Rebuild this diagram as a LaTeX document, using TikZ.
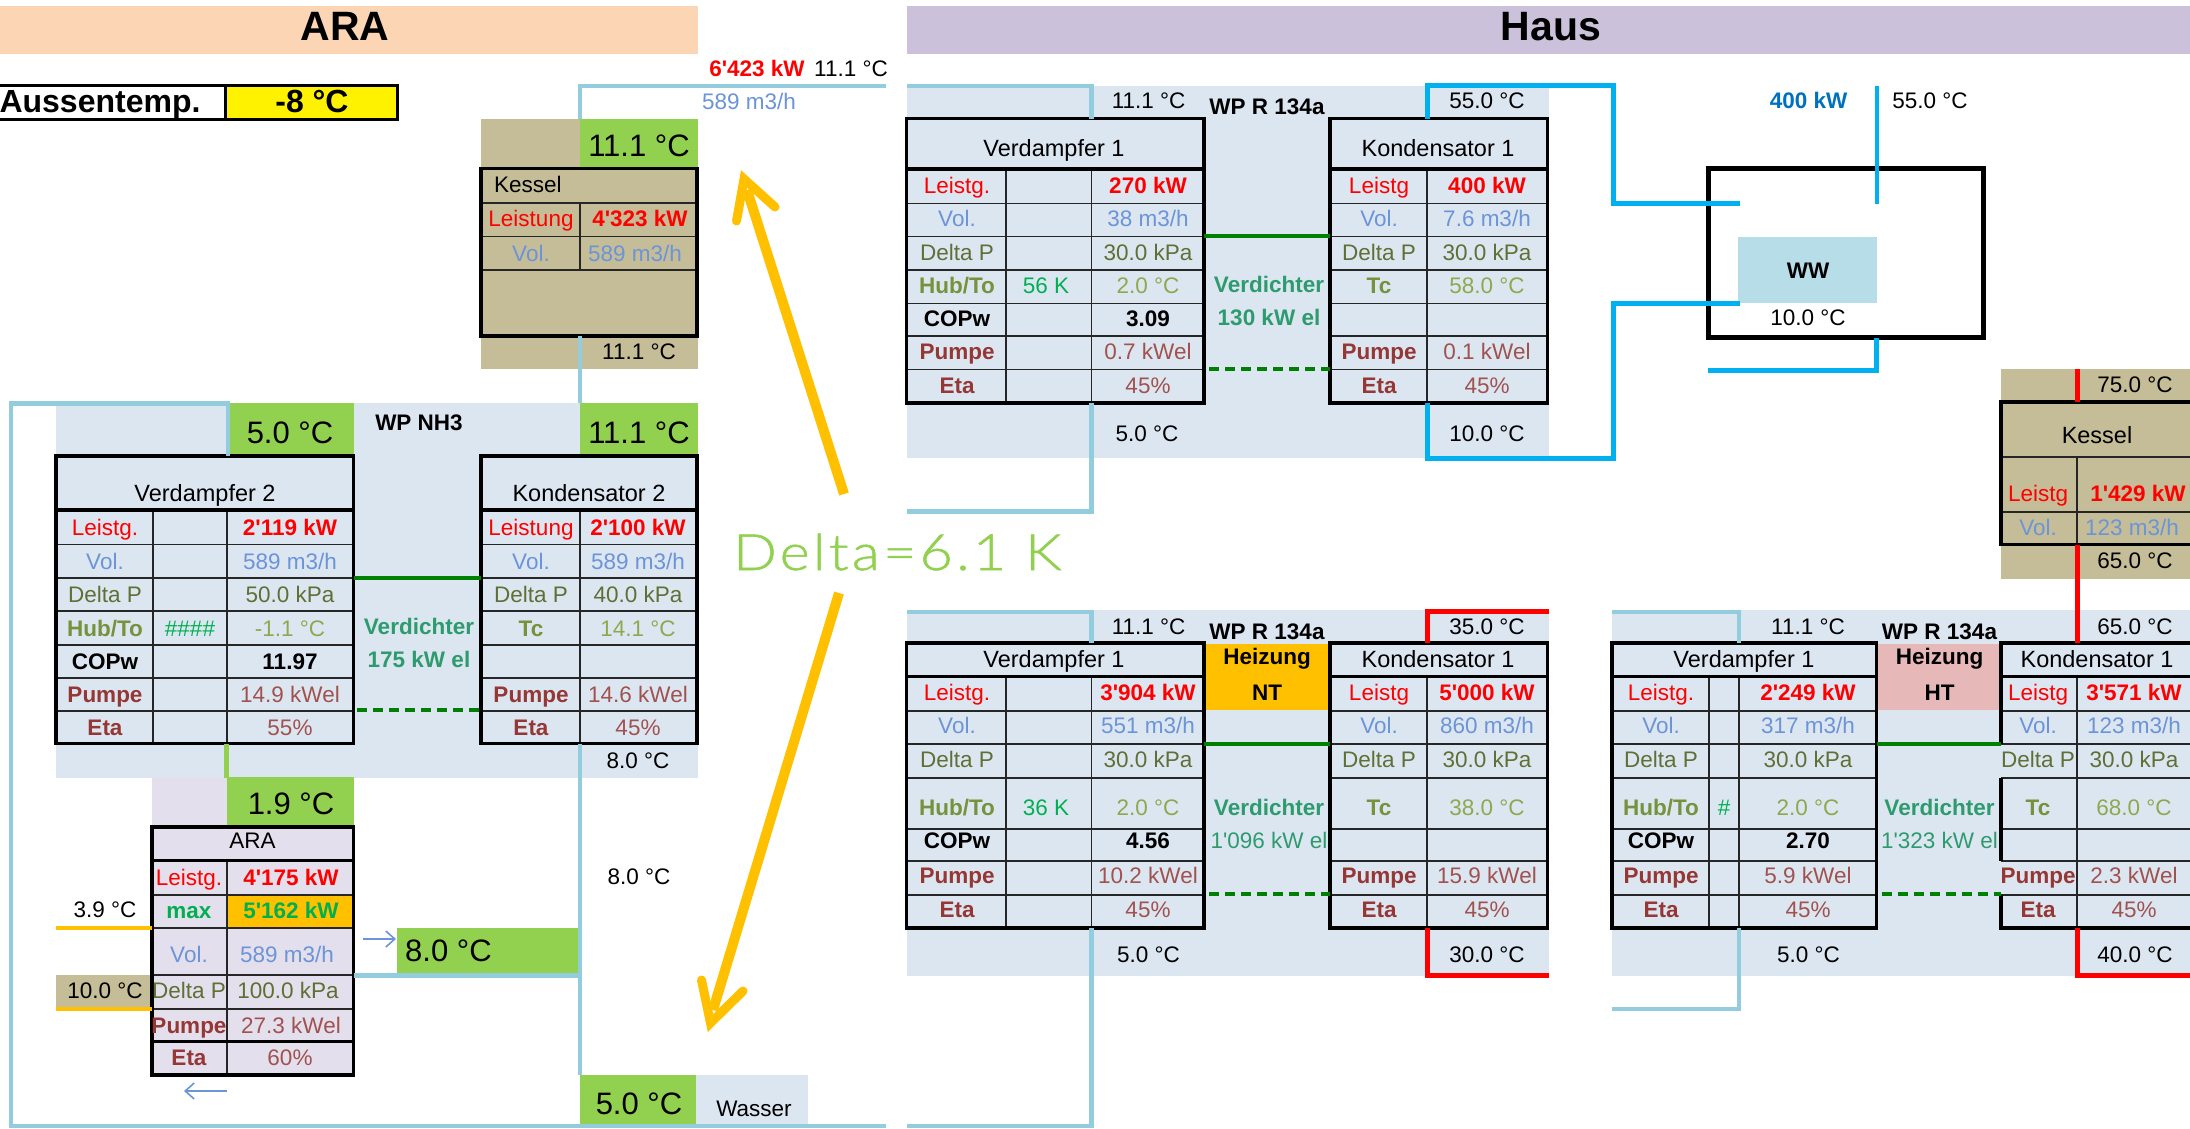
\documentclass[tikz,border=0pt]{standalone}
\usepackage{fontspec}
\usetikzlibrary{arrows.meta}
\newfontfamily\fnt{Liberation Sans}
\newfontfamily\dfnt[LetterSpace=6.5,FakeStretch=1.15,FakeBold=1]{Lato Light}
\definecolor{hAra}{HTML}{FCD5B5}
\definecolor{hHaus}{HTML}{CCC1DA}
\definecolor{bgblue}{HTML}{DCE6F1}
\definecolor{tanbg}{HTML}{C4BD97}
\definecolor{lime}{HTML}{92D050}
\definecolor{lav}{HTML}{E4DFEC}
\definecolor{aqua}{HTML}{93CDDD}
\definecolor{sky}{HTML}{00B0F0}
\definecolor{ww}{HTML}{B7DDE8}
\definecolor{amber}{HTML}{FFC000}
\definecolor{pink}{HTML}{E6B9B8}
\definecolor{cvol}{HTML}{6C94D8}
\definecolor{cdp}{HTML}{5F6F35}
\definecolor{chub}{HTML}{76923C}
\definecolor{cto}{HTML}{8FA84F}
\definecolor{cpb}{HTML}{953735}
\definecolor{cpv}{HTML}{A0524F}
\definecolor{cver}{HTML}{2E9B6E}
\definecolor{cgrn}{HTML}{00B050}
\definecolor{dgreen}{HTML}{008000}
\definecolor{wwblue}{HTML}{0070C0}
\newcounter{tn}
\tikzset{
  txt/.style={font=\fnt\fontsize{22.5}{24}\selectfont,inner sep=0pt,anchor=mid,yshift=-6pt},
  hdr/.style={font=\fnt\fontsize{23.5}{25}\selectfont,inner sep=0pt,anchor=mid,yshift=-6pt},
  btxt/.style={font=\fnt\bfseries\fontsize{22.5}{24}\selectfont,inner sep=0pt,anchor=mid,yshift=-6pt},
  bigtxt/.style={font=\fnt\fontsize{31}{33}\selectfont,inner sep=0pt,anchor=mid,yshift=-8pt},
  title/.style={font=\fnt\bfseries\fontsize{41}{43}\selectfont,inner sep=0pt,anchor=mid,yshift=-10pt},
  outtemp/.style={font=\fnt\bfseries\fontsize{32}{34}\selectfont,inner sep=0pt,anchor=mid,yshift=-7pt},
  rowline/.style={draw=black!85,line width=1.8pt},
  border/.style={draw=black,line width=3.4pt},
  pipeaqua/.style={draw=aqua,line width=4.6pt},
  pipesky/.style={draw=sky,line width=5pt},
  pipered/.style={draw=red,line width=5pt},
  pipegrn/.style={draw=lime,line width=4.5pt},
  pipeamb/.style={draw=amber,line width=4.5pt},
  comp/.style={draw=dgreen,line width=4pt},
  compd/.style={draw=dgreen,line width=3.5pt,dash pattern=on 10pt off 6pt},
  bigarrow/.style={draw=amber,line width=10pt},
  chev/.style={draw=amber,line width=9pt,line cap=round,line join=miter},
  thinarrow/.style={draw=cvol,line width=1.6pt,-{Straight Barb[length=9pt,width=16pt]}},
}
\newcommand\T[4]{\stepcounter{tn}\node[#1] (n\thetn) at (#2,#3) {#4};}
\newcommand\Fl[5]{\fill[#1] (#2,#3) rectangle (#4,#5);}
% x0,y0,x1,y1,ycol, cols, rows
\newcommand\Grid[7]{%
  \foreach \rr in {#7}{\draw[rowline] (#1,\rr)--(#3,\rr);}
  \foreach \cc in {#6}{\draw[rowline] (\cc,#5)--(\cc,#4);}
  \draw[border] (#1,#2) rectangle (#3,#4);
  \draw[border] (#1,#5)--(#3,#5);}
\newcommand\SetY[7]{\def\ya{#1}\def\yb{#2}\def\yc{#3}\def\yd{#4}\def\ye{#5}\def\yf{#6}\def\yg{#7}}
% xlabel xmid xval leist vol dp hub to
\newcommand\VerdA[8]{%
  \T{txt,red}{#1}{\ya}{Leistg.}\T{btxt,red}{#3}{\ya}{#4}
  \T{txt,cvol}{#1}{\yb}{Vol.}\T{txt,cvol}{#3}{\yb}{#5}
  \T{txt,cdp}{#1}{\yc}{Delta P}\T{txt,cdp}{#3}{\yc}{#6}
  \T{btxt,chub}{#1}{\yd}{Hub/To}\T{txt,cgrn}{#2}{\yd}{#7}\T{txt,cto}{#3}{\yd}{#8}}
% xlabel xval cop pump eta
\newcommand\VerdB[5]{%
  \T{btxt,black}{#1}{\ye}{COPw}\T{btxt,black}{#2}{\ye}{#3}
  \T{btxt,cpb}{#1}{\yf}{Pumpe}\T{txt,cpv}{#2}{\yf}{#4}
  \T{btxt,cpb}{#1}{\yg}{Eta}\T{txt,cpv}{#2}{\yg}{#5}}
% xlabel xval lab leist vol dp tc pump eta
\newcommand\Kond[9]{%
  \T{txt,red}{#1}{\ya}{#3}\T{btxt,red}{#2}{\ya}{#4}
  \T{txt,cvol}{#1}{\yb}{Vol.}\T{txt,cvol}{#2}{\yb}{#5}
  \T{txt,cdp}{#1}{\yc}{Delta P}\T{txt,cdp}{#2}{\yc}{#6}
  \T{btxt,chub}{#1}{\yd}{Tc}\T{txt,cto}{#2}{\yd}{#7}
  \T{btxt,cpb}{#1}{\yf}{Pumpe}\T{txt,cpv}{#2}{\yf}{#8}
  \T{btxt,cpb}{#1}{\yg}{Eta}\T{txt,cpv}{#2}{\yg}{#9}}
\begin{document}
\begin{tikzpicture}[x=1pt,y=-1pt]
\useasboundingbox (0,0) rectangle (2190,1128);
\fill[white] (0,0) rectangle (2190,1128);
% ---- headers
\Fl{hAra}{0}{6}{698}{54}
\Fl{hHaus}{907}{6}{2190}{54}
\T{title}{345}{28}{ARA}
\T{title}{1551}{28}{Haus}
% ---- Aussentemp
\Fl{yellow}{226}{85}{396}{119}
\draw[draw=black,line width=3pt] (-3,85) -- (397,85) -- (397,119) -- (-3,119);
\draw[draw=black,line width=3pt] (225,85) -- (225,119);
\T{outtemp}{100}{103}{Aussentemp.}
\T{outtemp}{312}{103}{-8 °C}
% ---- backgrounds
\Fl{tanbg}{481}{118.5}{698}{369}
\Fl{lime}{580}{118.5}{698}{167}
\Fl{bgblue}{56}{403}{698}{778}
\Fl{lime}{228}{403}{353.5}{455}
\Fl{lime}{580}{403}{698}{455}
\Fl{lav}{152}{777}{227}{827}
\Fl{lav}{152}{827}{353.5}{1075}
\Fl{lime}{227}{777}{354}{826}
\Fl{amber}{227}{895}{353.5}{928}
\Fl{tanbg}{56}{975}{152}{1009}
\Fl{lime}{397}{927.5}{578}{973}
\Fl{lime}{580}{1075}{696}{1128}
\Fl{bgblue}{696}{1075}{808}{1128}
\Fl{bgblue}{907}{86}{1549}{458}
\Fl{ww}{1738}{236.5}{1877}{302.5}
\Fl{tanbg}{2001}{369}{2190}{579}
\Fl{bgblue}{907}{610}{1549}{976}
\Fl{amber}{1205}{644}{1329}{710}
\Fl{bgblue}{1612}{610}{2190}{976}
\Fl{pink}{1877}{644}{2000}{710}
% ---- tables
\Grid{481}{168.5}{697}{336}{168.5}{}{203,236.5,270}
\draw[rowline] (580,203)--(580,270);
\Grid{56}{456}{353.5}{743.5}{510}{153,226.7}{544.5,578,611,644.7,678,711}
\Grid{481}{456}{697}{743.5}{510}{580}{544.5,578,611,644.7,678,711}
\Grid{152}{827}{353.5}{1075}{860.5}{226.7}{895,928,975,1009,1041.5}
\draw[border] (152,1041.5)--(353.5,1041.5);
\Grid{906.6}{118.5}{1204}{403}{169}{1006,1091.5}{203.5,236.4,270,303.5,336.3,369.5}
\Grid{1330}{118.5}{1547.5}{403}{169}{1427}{203.5,236.4,270,303.5,336.3,369.5}
\Grid{906.6}{643}{1204}{928}{676.5}{1006,1091.5}{711,744,778,828.6,861,895}
\Grid{1330}{643}{1547.5}{928}{676.5}{1427}{711,744,778,828.6,861,895}
\Grid{1612}{643}{1876.6}{928}{676.5}{1709,1739}{711,744,778,828.6,861,895}
% right Kessel
\draw[rowline] (2001,511.6)--(2195,511.6);
\draw[rowline] (2077,457)--(2077,544.6);
\draw[rowline] (2001,457)--(2195,457);
\draw[border] (2195,402)--(2001,402)--(2001,544.6)--(2195,544.6);
% HT Kondensator: left border is broken by overflowing labels
\foreach \rr in {711,744,778,828.6,861,895}{\draw[rowline] (2001,\rr)--(2195,\rr);}
\draw[rowline] (2077,676.5)--(2077,928);
\draw[border] (2195,643)--(2001,643)--(2001,744);
\draw[border] (2001,778)--(2001,861);
\draw[border] (2001,895)--(2001,928)--(2195,928);
\draw[border] (2001,676.5)--(2195,676.5);
% WW box
\draw[draw=black,line width=5pt] (1708,168.5) rectangle (1983,337.5);
% ---- compressor lines
\coordinate (c1a) at (353.5,578); \coordinate (c1b) at (481,578);
\draw[comp] (c1a)--(c1b);
\coordinate (c1c) at (357,710); \coordinate (c1d) at (481,710);
\draw[compd] (c1c)--(c1d);
\coordinate (c2a) at (1204,236.4); \coordinate (c2b) at (1330,236.4);
\draw[comp] (c2a)--(c2b);
\coordinate (c2c) at (1209,369); \coordinate (c2d) at (1330,369);
\draw[compd] (c2c)--(c2d);
\coordinate (c3a) at (1204,744); \coordinate (c3b) at (1330,744);
\draw[comp] (c3a)--(c3b);
\coordinate (c3c) at (1209,894); \coordinate (c3d) at (1330,894);
\draw[compd] (c3c)--(c3d);
\coordinate (c4a) at (1877,744); \coordinate (c4b) at (2001,744);
\draw[comp] (c4a)--(c4b);
\coordinate (c4c) at (1882,894); \coordinate (c4d) at (2001,894);
\draw[compd] (c4c)--(c4d);
% ---- aqua pipes
\coordinate (a1) at (886,86); \coordinate (a2) at (580,86); \coordinate (a3) at (580,118.5);
\draw[pipeaqua] (a1)--(a2)--(a3);
\coordinate (a4) at (580,336); \coordinate (a5) at (580,403);
\draw[pipeaqua] (a4)--(a5);
\coordinate (a6) at (228,456); \coordinate (a7) at (228,403.5); \coordinate (a8) at (11,403.5);
\coordinate (a9) at (11,1126); \coordinate (a10) at (886,1126);
\draw[pipeaqua] (a6)--(a7)--(a8)--(a9)--(a10);
\coordinate (a11) at (580,743.5); \coordinate (a12) at (580,1075);
\draw[pipeaqua] (a11)--(a12);
\coordinate (a13) at (353.5,975.6); \coordinate (a14) at (580,975.6);
\draw[pipeaqua] (a13)--(a14);
\coordinate (a15) at (907,86); \coordinate (a16) at (1091.5,86); \coordinate (a17) at (1091.5,118.5);
\draw[pipeaqua] (a15)--(a16)--(a17);
\coordinate (a18) at (1091.5,403); \coordinate (a19) at (1091.5,511.6); \coordinate (a20) at (907,511.6);
\draw[pipeaqua] (a18)--(a19)--(a20);
\coordinate (a21) at (907,612); \coordinate (a22) at (1091.5,612); \coordinate (a23) at (1091.5,643);
\draw[pipeaqua] (a21)--(a22)--(a23);
\coordinate (a24) at (1091.5,928); \coordinate (a25) at (1091.5,1126); \coordinate (a26) at (907,1126);
\draw[pipeaqua] (a24)--(a25)--(a26);
\coordinate (a27) at (1612,612); \coordinate (a28) at (1739,612); \coordinate (a29) at (1739,643);
\draw[pipeaqua] (a27)--(a28)--(a29);
\coordinate (a30) at (1739,928); \coordinate (a31) at (1739,1009); \coordinate (a32) at (1612,1009);
\draw[pipeaqua] (a30)--(a31)--(a32);
% ---- lime / amber short pipes
\coordinate (g1) at (226.7,743.5); \coordinate (g2) at (226.7,778);
\draw[pipegrn] (g1)--(g2);
\coordinate (o1) at (56,928); \coordinate (o2) at (152,928);
\draw[pipeamb] (o1)--(o2);
\coordinate (o3) at (56,1009); \coordinate (o4) at (152,1009);
\draw[pipeamb] (o3)--(o4);
% ---- sky pipes
\coordinate (s1) at (1427,118.5); \coordinate (s2) at (1427,85.7); \coordinate (s3) at (1613,85.7);
\coordinate (s4) at (1613,203.5); \coordinate (s5) at (1740,203.5);
\draw[pipesky] (s1)--(s2)--(s3)--(s4)--(s5);
\coordinate (s6) at (1427,403); \coordinate (s7) at (1427,458); \coordinate (s8) at (1613,458);
\coordinate (s9) at (1613,303.5); \coordinate (s10) at (1740,303.5);
\draw[pipesky] (s6)--(s7)--(s8)--(s9)--(s10);
\coordinate (s11) at (1876.5,85.7); \coordinate (s12) at (1876.5,204);
\draw[draw=sky,line width=4pt] (s11)--(s12);
\coordinate (s13) at (1876.5,337.5); \coordinate (s14) at (1876.5,370); \coordinate (s15) at (1708,370);
\draw[pipesky] (s13)--(s14)--(s15);
% ---- red pipes
\coordinate (r1) at (1427,643); \coordinate (r2) at (1427,611.5); \coordinate (r3) at (1549,611.5);
\draw[pipered] (r1)--(r2)--(r3);
\coordinate (r4) at (1427,928); \coordinate (r5) at (1427,975.6); \coordinate (r6) at (1549,975.6);
\draw[pipered] (r4)--(r5)--(r6);
\coordinate (r7) at (2077,369); \coordinate (r8) at (2077,402);
\draw[pipered] (r7)--(r8);
\coordinate (r9) at (2077,544.6); \coordinate (r10) at (2077,643);
\draw[pipered] (r9)--(r10);
\coordinate (r11) at (2077,928); \coordinate (r12) at (2077,975.6); \coordinate (r13) at (2195,975.6);
\draw[pipered] (r11)--(r12)--(r13);
% ---- top texts
\T{btxt,red}{757}{68}{6'423 kW}
\T{txt}{851}{68}{11.1 °C}
\T{txt,cvol}{749}{101}{589 m3/h}
% ---- ARA Kessel
\T{bigtxt}{639}{146}{11.1 °C}
\T{txt,anchor=mid west}{494}{184}{Kessel}
\T{txt,red}{531}{218}{Leistung}
\T{btxt,red}{640}{218}{4'323 kW}
\T{txt,cvol}{531}{253}{Vol.}
\T{txt,cvol}{635}{253}{589 m3/h}
\T{txt}{639}{351}{11.1 °C}
% ---- WP NH3
\T{bigtxt}{290}{433}{5.0 °C}
\T{bigtxt}{639}{433}{11.1 °C}
\T{btxt}{419}{422}{WP NH3}
\T{hdr}{205}{493}{Verdampfer 2}
\T{hdr}{589}{493}{Kondensator 2}
\SetY{527}{561}{594.5}{628}{661}{694.5}{727}
\VerdA{105}{190}{290}{2'119 kW}{589 m3/h}{50.0 kPa}{\#\#\#\#}{-1.1 °C}
\VerdB{105}{290}{11.97}{14.9 kWel}{55\%}
\Kond{531}{638}{Leistung}{2'100 kW}{589 m3/h}{40.0 kPa}{14.1 °C}{14.6 kWel}{45\%}
\T{btxt,cver}{419}{626}{Verdichter}
\T{btxt,cver}{419}{659}{175 kW el}
\T{txt}{638}{760}{8.0 °C}
% ---- ARA table
\T{bigtxt}{291}{804}{1.9 °C}
\T{txt}{252.6}{840}{ARA}
\T{txt,red}{189}{877}{Leistg.}
\T{btxt,red}{291}{877}{4'175 kW}
\T{btxt,cgrn}{189}{910}{max}
\T{btxt,cgrn}{291}{910}{5'162 kW}
\T{txt,cvol}{189}{954.6}{Vol.}
\T{txt,cvol}{287}{954.6}{589 m3/h}
\T{txt,cdp}{189}{990}{Delta P}
\T{txt,cdp}{288}{990}{100.0 kPa}
\T{btxt,cpb}{189}{1025}{Pumpe}
\T{txt,cpv}{291}{1025}{27.3 kWel}
\T{btxt,cpb}{189}{1057}{Eta}
\T{txt,cpv}{290}{1057}{60\%}
\T{txt}{105}{909}{3.9 °C}
\T{txt}{105}{990}{10.0 °C}
\T{bigtxt,anchor=mid west}{405}{951}{8.0 °C}
\T{txt}{639}{876}{8.0 °C}
\T{bigtxt}{639}{1104}{5.0 °C}
\T{txt}{754}{1108}{Wasser}
\coordinate (ta1) at (363,939); \coordinate (ta2) at (396,939);
\draw[thinarrow] (ta1)--(ta2);
\coordinate (ta3) at (227,1091); \coordinate (ta4) at (184,1091);
\draw[thinarrow] (ta3)--(ta4);
% ---- Haus 1
\T{txt}{1148.6}{100}{11.1 °C}
\T{btxt}{1267}{106}{WP R 134a}
\T{txt}{1487}{100}{55.0 °C}
\T{hdr}{1054}{148}{Verdampfer 1}
\T{hdr}{1438}{148}{Kondensator 1}
\SetY{185}{218}{252}{285}{318}{351}{385}
\VerdA{957}{1046}{1148}{270 kW}{38 m3/h}{30.0 kPa}{56 K}{2.0 °C}
\VerdB{957}{1148}{3.09}{0.7 kWel}{45\%}
\Kond{1379}{1487}{Leistg}{400 kW}{7.6 m3/h}{30.0 kPa}{58.0 °C}{0.1 kWel}{45\%}
\T{btxt,cver}{1269}{284}{Verdichter}
\T{btxt,cver}{1269}{317}{130 kW el}
\T{txt}{1147}{433}{5.0 °C}
\T{txt}{1487}{433}{10.0 °C}
% ---- WW
\T{btxt,wwblue}{1808.5}{100}{400 kW}
\T{txt}{1930}{100}{55.0 °C}
\T{btxt}{1808}{270}{WW}
\T{txt}{1808}{317}{10.0 °C}
% ---- right Kessel
\T{txt}{2135}{384.5}{75.0 °C}
\T{hdr}{2097}{435}{Kessel}
\T{txt,red}{2038}{493}{Leistg}
\T{btxt,red}{2138}{493}{1'429 kW}
\T{txt,cvol}{2038}{527}{Vol.}
\T{txt,cvol}{2132}{527}{123 m3/h}
\T{txt}{2135}{560}{65.0 °C}
% ---- Haus NT
\T{txt}{1148.6}{626}{11.1 °C}
\T{btxt}{1267}{631}{WP R 134a}
\T{txt}{1487}{626}{35.0 °C}
\T{hdr}{1054}{659}{Verdampfer 1}
\T{hdr}{1438}{659}{Kondensator 1}
\T{btxt}{1267}{656}{Heizung}
\T{btxt}{1267}{692}{NT}
\SetY{692}{725}{759.5}{807}{840}{875}{909}
\VerdA{957}{1046}{1148}{3'904 kW}{551 m3/h}{30.0 kPa}{36 K}{2.0 °C}
\VerdB{957}{1148}{4.56}{10.2 kWel}{45\%}
\Kond{1379}{1487}{Leistg}{5'000 kW}{860 m3/h}{30.0 kPa}{38.0 °C}{15.9 kWel}{45\%}
\T{btxt,cver}{1269}{807}{Verdichter}
\T{txt,cver}{1269}{840}{1'096 kW el}
\T{txt}{1148.6}{954.6}{5.0 °C}
\T{txt}{1487}{954.6}{30.0 °C}
% ---- Haus HT
\T{txt}{1808}{626}{11.1 °C}
\T{btxt}{1939.5}{631}{WP R 134a}
\T{txt}{2135}{626}{65.0 °C}
\T{hdr}{1744}{659}{Verdampfer 1}
\T{hdr}{2097}{659}{Kondensator 1}
\T{btxt}{1939.5}{656}{Heizung}
\T{btxt}{1939.5}{692}{HT}
\VerdA{1661}{1724}{1808}{2'249 kW}{317 m3/h}{30.0 kPa}{\#}{2.0 °C}
\VerdB{1661}{1808}{2.70}{5.9 kWel}{45\%}
\Kond{2038}{2134}{Leistg}{3'571 kW}{123 m3/h}{30.0 kPa}{68.0 °C}{2.3 kWel}{45\%}
\T{btxt,cver}{1939.5}{807}{Verdichter}
\T{txt,cver}{1939.5}{840}{1'323 kW el}
\T{txt}{1808.6}{954.6}{5.0 °C}
\T{txt}{2135}{954.6}{40.0 °C}
% ---- Delta
\T{font=\dfnt\fontsize{50}{52}\selectfont,text=lime,inner sep=0pt,anchor=base west}{733}{570}{Delta=6.1 K}
% ---- yellow arrows
\coordinate (y1) at (844,494); \coordinate (y2) at (747,190);
\coordinate (y3) at (736.5,221); \coordinate (y4) at (744,179); \coordinate (y5) at (775,207);
\draw[bigarrow] (y1)--(y2);
\draw[chev] (y3)--(y4)--(y5);
\coordinate (y6) at (839,593); \coordinate (y7) at (713,1010);
\coordinate (y8) at (701.5,980); \coordinate (y9) at (710.5,1023); \coordinate (y10) at (743,991);
\draw[bigarrow] (y6)--(y7);
\draw[chev] (y8)--(y9)--(y10);
\end{tikzpicture}
\end{document}
